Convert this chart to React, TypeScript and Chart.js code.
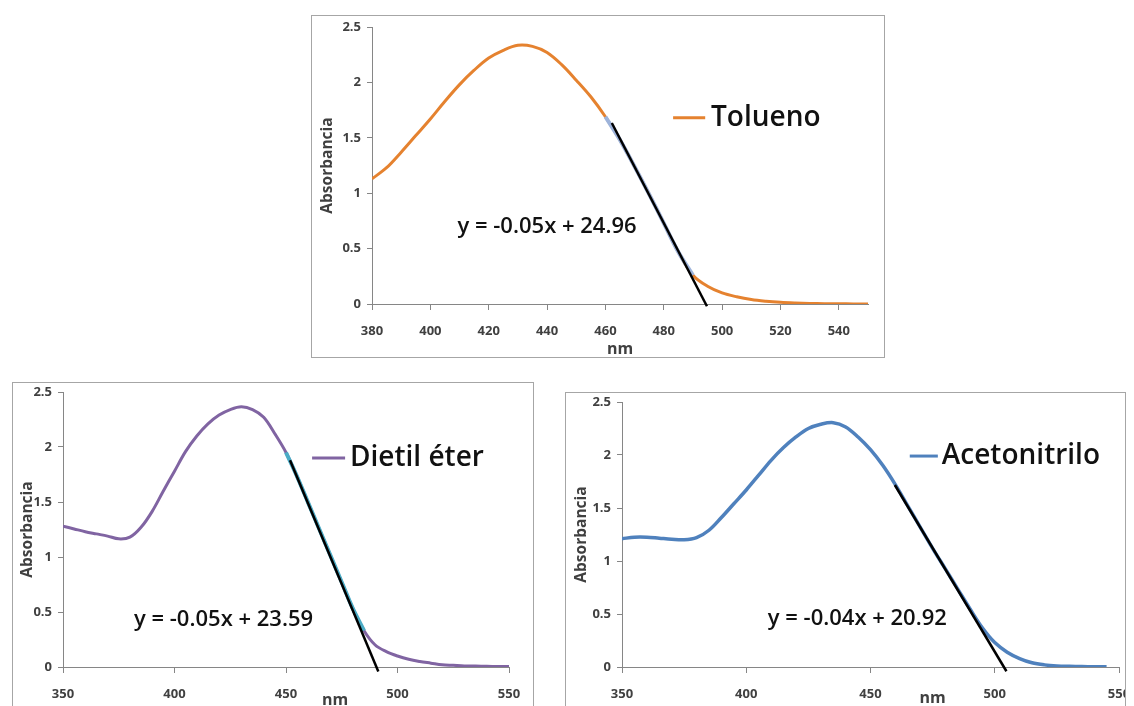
import React, { useEffect, useRef } from "react";
import { Chart, registerables } from "chart.js";

Chart.register(...registerables);

// ---------------- DATA ----------------
const toluenoNm = [380, 385, 390, 395, 400, 405, 410, 415, 420, 425, 430, 435, 440, 445, 450, 455, 460, 465, 470, 475, 480, 485, 490, 495, 500, 505, 510, 515, 520, 525, 530, 535, 540, 545, 550];
const toluenoAbs = [1.13, 1.23, 1.37, 1.52, 1.67, 1.83, 1.98, 2.11, 2.22, 2.29, 2.335, 2.325, 2.27, 2.16, 2.02, 1.87, 1.69, 1.48, 1.24, 0.99, 0.73, 0.47, 0.26, 0.16, 0.1, 0.065, 0.04, 0.025, 0.015, 0.009, 0.005, 0.003, 0.002, 0.001, 0.001];
const toluenoTrendNm = [462.2, 494.8];
const toluenoTrendAbs = [1.634, -0.02];
const toluenoFitRange = [460, 490];

const dietilNm = [350, 355, 360, 365, 370, 375, 380, 385, 390, 395, 400, 405, 410, 415, 420, 425, 430, 435, 440, 445, 450, 455, 460, 465, 470, 475, 480, 485, 490, 495, 500, 505, 510, 515, 520, 525, 530, 535, 540, 545, 550];
const dietilAbs = [1.28, 1.255, 1.23, 1.21, 1.19, 1.165, 1.18, 1.27, 1.415, 1.6, 1.78, 1.96, 2.1, 2.21, 2.29, 2.34, 2.365, 2.34, 2.27, 2.12, 1.95, 1.73, 1.49, 1.25, 1.01, 0.77, 0.53, 0.33, 0.2, 0.14, 0.1, 0.07, 0.05, 0.035, 0.02, 0.015, 0.01, 0.008, 0.006, 0.005, 0.005];
const dietilTrendNm = [451.8, 491.4];
const dietilTrendAbs = [1.88, -0.04];
const dietilFitRange = [450, 485];

const acetoNm = [350, 355, 360, 365, 370, 375, 380, 385, 390, 395, 400, 405, 410, 415, 420, 425, 430, 435, 440, 445, 450, 455, 460, 465, 470, 475, 480, 485, 490, 495, 500, 505, 510, 515, 520, 525, 530, 535, 540, 545];
const acetoAbs = [1.21, 1.225, 1.225, 1.215, 1.205, 1.2, 1.22, 1.29, 1.41, 1.54, 1.67, 1.81, 1.95, 2.07, 2.17, 2.25, 2.29, 2.305, 2.265, 2.17, 2.05, 1.9, 1.72, 1.52, 1.32, 1.12, 0.93, 0.74, 0.55, 0.37, 0.23, 0.14, 0.08, 0.04, 0.02, 0.01, 0.006, 0.004, 0.003, 0.002];
const acetoTrendNm = [459.8, 504.7];
const acetoTrendAbs = [1.717, -0.04];

const yTicks = [0, 0.5, 1, 1.5, 2, 2.5];
const toluenoXTicks = [380, 400, 420, 440, 460, 480, 500, 520, 540];
const bottomXTicks = [350, 400, 450, 500, 550];

const seriesNames = ["Tolueno", "Dietil éter", "Acetonitrilo"];
const equations = ["y = -0.05x + 24.96", "y = -0.05x + 23.59", "y = -0.04x + 20.92"];

// ---------------- HELPERS ----------------
const pts = (xs: number[], ys: number[]) => xs.map((x, i) => ({ x, y: ys[i] }));
const ptsInRange = (xs: number[], ys: number[], r: number[]) =>
  pts(xs, ys).filter((p) => p.x >= r[0] && p.x <= r[1]);

const FONT = "'Open Sans', 'DejaVu Sans', sans-serif";
const AXIS_GRAY = "#868686";
const TEXT_GRAY = "#404040";

const overlayPlugin = {
  id: "overlay",
  afterDatasetsDraw(chart: any, _args: any, opts: any) {
    const { ctx, chartArea } = chart;
    const x = chart.scales.x;
    const y = chart.scales.y;
    ctx.save();
    // equation
    ctx.font = `600 22px ${FONT}`;
    ctx.fillStyle = "#111";
    ctx.textAlign = "center";
    ctx.textBaseline = "middle";
    ctx.fillText(opts.equation, x.getPixelForValue(opts.eqX), y.getPixelForValue(opts.eqY));
    // legend
    const ly = y.getPixelForValue(opts.legY);
    ctx.strokeStyle = opts.color;
    ctx.lineWidth = 3;
    ctx.beginPath();
    ctx.moveTo(x.getPixelForValue(opts.legX1), ly);
    ctx.lineTo(x.getPixelForValue(opts.legX2), ly);
    ctx.stroke();
    ctx.font = `600 28px ${FONT}`;
    ctx.textAlign = "left";
    ctx.fillStyle = "#111";
    ctx.fillText(opts.name, x.getPixelForValue(opts.legText), ly);
    // x title
    ctx.font = `bold 16px ${FONT}`;
    ctx.fillStyle = TEXT_GRAY;
    ctx.textAlign = "center";
    ctx.fillText("nm", x.getPixelForValue(opts.nmX), chartArea.bottom + opts.nmOffset);
    ctx.restore();
  },
};

type Spec = {
  box: { left: number; top: number; width: number; height: number };
  area: { left: number; top: number; padRight: number; xh: number };
  yTitlePad: number;
  xMin: number;
  xMax: number;
  xTicks: number[];
  datasets: any[];
  overlay: any;
};

function SpectrumChart({ spec }: { spec: Spec }) {
  const ref = useRef<HTMLCanvasElement>(null);
  const W = spec.box.width - 2;
  const H = spec.box.height - 2;
  useEffect(() => {
    if (!ref.current) return;
    const tickFont = { family: FONT, size: 13, weight: "bold" as const };
    const chart = new Chart(ref.current, {
      type: "line",
      data: { datasets: spec.datasets },
      options: {
        responsive: false,
        animation: false,
        devicePixelRatio: 1,
        layout: { padding: { left: 0, top: spec.area.top, right: spec.area.padRight, bottom: 0 } },
        elements: { point: { radius: 0 }, line: { tension: 0.35 } },
        plugins: {
          legend: { display: false },
          tooltip: { enabled: false },
          overlay: spec.overlay,
        } as any,
        scales: {
          x: {
            type: "linear",
            min: spec.xMin,
            max: spec.xMax,
            afterBuildTicks: (s: any) => {
              s.ticks = spec.xTicks.map((v) => ({ value: v }));
            },
            afterFit: (s: any) => {
              s.height = spec.area.xh;
              s.paddingLeft = 0;
              s.paddingRight = 0;
            },
            grid: { display: true, drawOnChartArea: false, drawTicks: true, tickLength: 6, color: AXIS_GRAY },
            border: { display: true, color: AXIS_GRAY, width: 1 },
            ticks: {
              font: tickFont,
              color: TEXT_GRAY,
              padding: 13,
              maxRotation: 0,
              autoSkip: false,
              callback: (v: any) => String(v),
            },
          },
          y: {
            type: "linear",
            min: 0,
            max: 2.5,
            afterBuildTicks: (s: any) => {
              s.ticks = yTicks.map((v) => ({ value: v }));
            },
            afterFit: (s: any) => {
              s.width = spec.area.left;
              s.paddingTop = 0;
              s.paddingBottom = 0;
            },
            grid: { display: true, drawOnChartArea: false, drawTicks: true, tickLength: 5, color: AXIS_GRAY },
            border: { display: true, color: AXIS_GRAY, width: 1 },
            ticks: { font: tickFont, color: TEXT_GRAY, padding: 6, callback: (v: any) => String(v) },
            title: {
              display: true,
              text: "Absorbancia",
              font: { family: FONT, size: 15.5, weight: "bold" },
              color: TEXT_GRAY,
              padding: { top: spec.yTitlePad, bottom: 0 },
            },
          },
        },
      },
      plugins: [overlayPlugin as any],
    });
    return () => chart.destroy();
  }, [spec]);
  return (
    <div
      style={{
        position: "absolute",
        left: spec.box.left,
        top: spec.box.top,
        width: spec.box.width,
        height: spec.box.height,
        boxSizing: "border-box",
        border: "1px solid #a6a6a6",
        background: "#fff",
      }}
    >
      <canvas ref={ref} width={W} height={H} style={{ display: "block" }} />
    </div>
  );
}

const ORANGE = "#E5822F";
const PURPLE = "#8064A2";
const BLUE = "#4F81BD";

const trendDs = (xs: number[], ys: number[]) => ({
  data: pts(xs, ys),
  borderColor: "#000",
  borderWidth: 2.5,
  tension: 0,
  clip: false,
});

const specs: Spec[] = [
  {
    box: { left: 311, top: 15, width: 574, height: 343 },
    area: { left: 60, top: 11, padRight: 16, xh: 53 },
    yTitlePad: 6,
    xMin: 380,
    xMax: 550,
    xTicks: toluenoXTicks,
    datasets: [
      trendDs(toluenoTrendNm, toluenoTrendAbs),
      { data: ptsInRange(toluenoNm, toluenoAbs, toluenoFitRange), borderColor: "#9DB3DA", borderWidth: 4 },
      { data: pts(toluenoNm, toluenoAbs), borderColor: ORANGE, borderWidth: 3 },
    ],
    overlay: {
      equation: equations[0], eqX: 440, eqY: 0.7,
      name: seriesNames[0], color: ORANGE, legX1: 483.2, legX2: 494.2, legY: 1.68, legText: 496.2,
      nmX: 465, nmOffset: 45,
    },
  },
  {
    box: { left: 12, top: 382, width: 522, height: 348 },
    area: { left: 50, top: 9, padRight: 24, xh: 62 },
    yTitlePad: 5,
    xMin: 350,
    xMax: 550,
    xTicks: bottomXTicks,
    datasets: [
      trendDs(dietilTrendNm, dietilTrendAbs),
      { data: ptsInRange(dietilNm, dietilAbs, dietilFitRange), borderColor: "#4BACC6", borderWidth: 4 },
      { data: pts(dietilNm, dietilAbs), borderColor: PURPLE, borderWidth: 3 },
    ],
    overlay: {
      equation: equations[1], eqX: 422, eqY: 0.43,
      name: seriesNames[1], color: PURPLE, legX1: 461.7, legX2: 476.5, legY: 1.9, legText: 478.7,
      nmX: 472, nmOffset: 33,
    },
  },
  {
    box: { left: 565, top: 392, width: 561, height: 340 },
    area: { left: 56, top: 9, padRight: 6, xh: 64 },
    yTitlePad: 6,
    xMin: 350,
    xMax: 550,
    xTicks: bottomXTicks,
    datasets: [
      trendDs(acetoTrendNm, acetoTrendAbs),
      { data: pts(acetoNm, acetoAbs), borderColor: BLUE, borderWidth: 3.5 },
    ],
    overlay: {
      equation: equations[2], eqX: 444.7, eqY: 0.46,
      name: seriesNames[2], color: BLUE, legX1: 465.8, legX2: 477.1, legY: 1.99, legText: 478.7,
      nmX: 475, nmOffset: 31,
    },
  },
];

export default function App() {
  return (
    <div
      style={{
        position: "absolute",
        left: 0,
        top: 0,
        width: 1134,
        height: 706,
        overflow: "hidden",
        background: "#fff",
      }}
    >
      {specs.map((s, i) => (
        <SpectrumChart key={i} spec={s} />
      ))}
    </div>
  );
}
